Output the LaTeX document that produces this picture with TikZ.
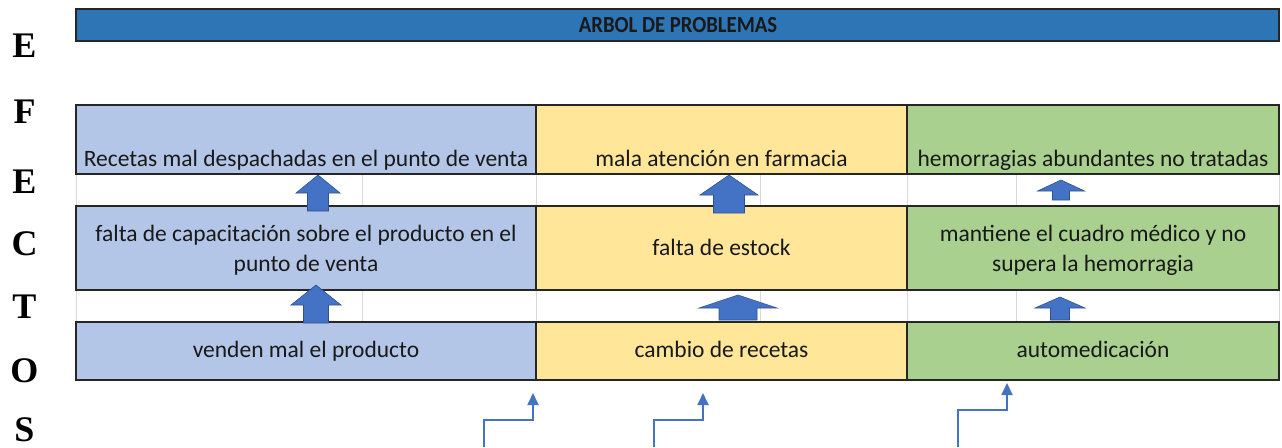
\documentclass[tikz,border=0pt]{standalone}
\usepackage{fontspec}
\setmainfont{Carlito}
\newfontfamily\letterfont{Liberation Serif}
\usetikzlibrary{arrows.meta}
\definecolor{titleblue}{HTML}{2E75B6}
\definecolor{cblue}{HTML}{B4C6E7}
\definecolor{cyellow}{HTML}{FFE699}
\definecolor{cgreen}{HTML}{A9D08E}
\definecolor{arrowfill}{HTML}{4472C4}
\definecolor{arrowedge}{HTML}{2F528F}
\definecolor{gridgray}{HTML}{D9D9D9}
\tikzset{
  cell/.style={draw=black!85, line width=1.3pt, inner sep=0pt},
  celltext/.style={font=\fontsize{23.5}{30}\selectfont, text=black!90, inner sep=0pt, align=center},
  letter/.style={font=\letterfont\bfseries\fontsize{36}{40}\selectfont, inner sep=0pt, anchor=base},
  grid/.style={draw=gridgray, line width=0.8pt},
  blockarrow/.style={fill=arrowfill, draw=arrowedge, line width=0.6pt},
  bent/.style={draw=arrowfill, line width=1.8pt, -{Triangle[length=12pt,width=11pt]}},
}
% \barrow{cx}{tip}{wing}{bottom}{headhalf}{shafthalf}
\newcommand\barrow[6]{%
  \path[blockarrow] (#1,#2) -- (#1+#5,#3) -- (#1+#6,#3) -- (#1+#6,#4)
     -- (#1-#6,#4) -- (#1-#6,#3) -- (#1-#5,#3) -- cycle;}
\begin{document}
\begin{tikzpicture}[x=1pt,y=-1pt]
\useasboundingbox (0,0) rectangle (1282,447);
\fill[white] (0,0) rectangle (1282,447);

% left vertical word
\node[letter] (l1) at (24.5,57.5) {E};
\node[letter] (l2) at (24.5,123) {F};
\node[letter] (l3) at (24.5,193.5) {E};
\node[letter] (l4) at (24.5,255.5) {C};
\node[letter] (l5) at (24.5,318.5) {T};
\node[letter] (l6) at (24.5,382) {O};
\node[letter] (l7) at (24.5,441) {S};

% title bar
\node[cell, fill=titleblue, minimum width=1203pt, minimum height=32pt] (title) at (677.5,25) {};
\node[font=\bfseries\fontsize{23}{26}\selectfont, text=black!90, inner sep=0pt] (titletext) at (678,25) {\scalebox{0.9}[1]{ARBOL DE PROBLEMAS}};

% gap-row grid lines
\foreach \x in {76,362,536,760,907,1016,1279} {
  \draw[grid] (\x,174) -- (\x,206);
  \draw[grid] (\x,290) -- (\x,322);
}

% row 1 (effects)
\node[cell, fill=cblue,   minimum width=460pt, minimum height=69pt] (r1a) at (306,139.5) {};
\node[cell, fill=cyellow, minimum width=371pt, minimum height=69pt] (r1b) at (721.5,139.5) {};
\node[cell, fill=cgreen,  minimum width=372pt, minimum height=69pt] (r1c) at (1093,139.5) {};
\node[celltext, anchor=base] (t1a) at (306,166) {Recetas mal despachadas en el punto de venta};
\node[celltext, anchor=base] (t1b) at (721.5,166) {mala atención en farmacia};
\node[celltext, anchor=base] (t1c) at (1093,166) {hemorragias abundantes no tratadas};

% row 2
\node[cell, fill=cblue,   minimum width=460pt, minimum height=84pt] (r2a) at (306,248) {};
\node[cell, fill=cyellow, minimum width=371pt, minimum height=84pt] (r2b) at (721.5,248) {};
\node[cell, fill=cgreen,  minimum width=372pt, minimum height=84pt] (r2c) at (1093,248) {};
\node[celltext] (t2a) at (306,250) {falta de capacitación sobre el producto en el\\punto de venta};
\node[celltext, anchor=base] (t2b) at (721.5,255) {falta de estock};
\node[celltext] (t2c) at (1093,250) {mantiene el cuadro médico y no\\supera la hemorragia};

% row 3 (causes)
\node[cell, fill=cblue,   minimum width=460pt, minimum height=58pt] (r3a) at (306,351) {};
\node[cell, fill=cyellow, minimum width=371pt, minimum height=58pt] (r3b) at (721.5,351) {};
\node[cell, fill=cgreen,  minimum width=372pt, minimum height=58pt] (r3c) at (1093,351) {};
\node[celltext, anchor=base] (t3a) at (306,357) {venden mal el producto};
\node[celltext, anchor=base] (t3b) at (721.5,357) {cambio de recetas};
\node[celltext, anchor=base] (t3c) at (1093,357) {automedicación};

% block arrows between rows
\barrow{318}{175}{193}{211}{22}{10.5}
\barrow{729}{175}{195}{213}{29}{15.5}
\barrow{1061}{180}{191}{200}{23.5}{8.5}
\barrow{316}{285}{305}{323}{25}{12.5}
\barrow{738}{295}{308}{320}{39}{19}
\barrow{1060}{297}{308}{320}{25}{9.5}

% bent arrows at the bottom
\coordinate (b1s) at (484,447);
\coordinate (b1e) at (533,393);
\coordinate (b2s) at (654,447);
\coordinate (b2e) at (703,393);
\coordinate (b3s) at (958,447);
\coordinate (b3e) at (1007,383);
\draw[bent] (b1s) -- (484,420) -- (533,420) -- (b1e);
\draw[bent] (b2s) -- (654,420) -- (703,420) -- (b2e);
\draw[bent] (b3s) -- (958,410) -- (1007,410) -- (b3e);
\end{tikzpicture}
\end{document}
